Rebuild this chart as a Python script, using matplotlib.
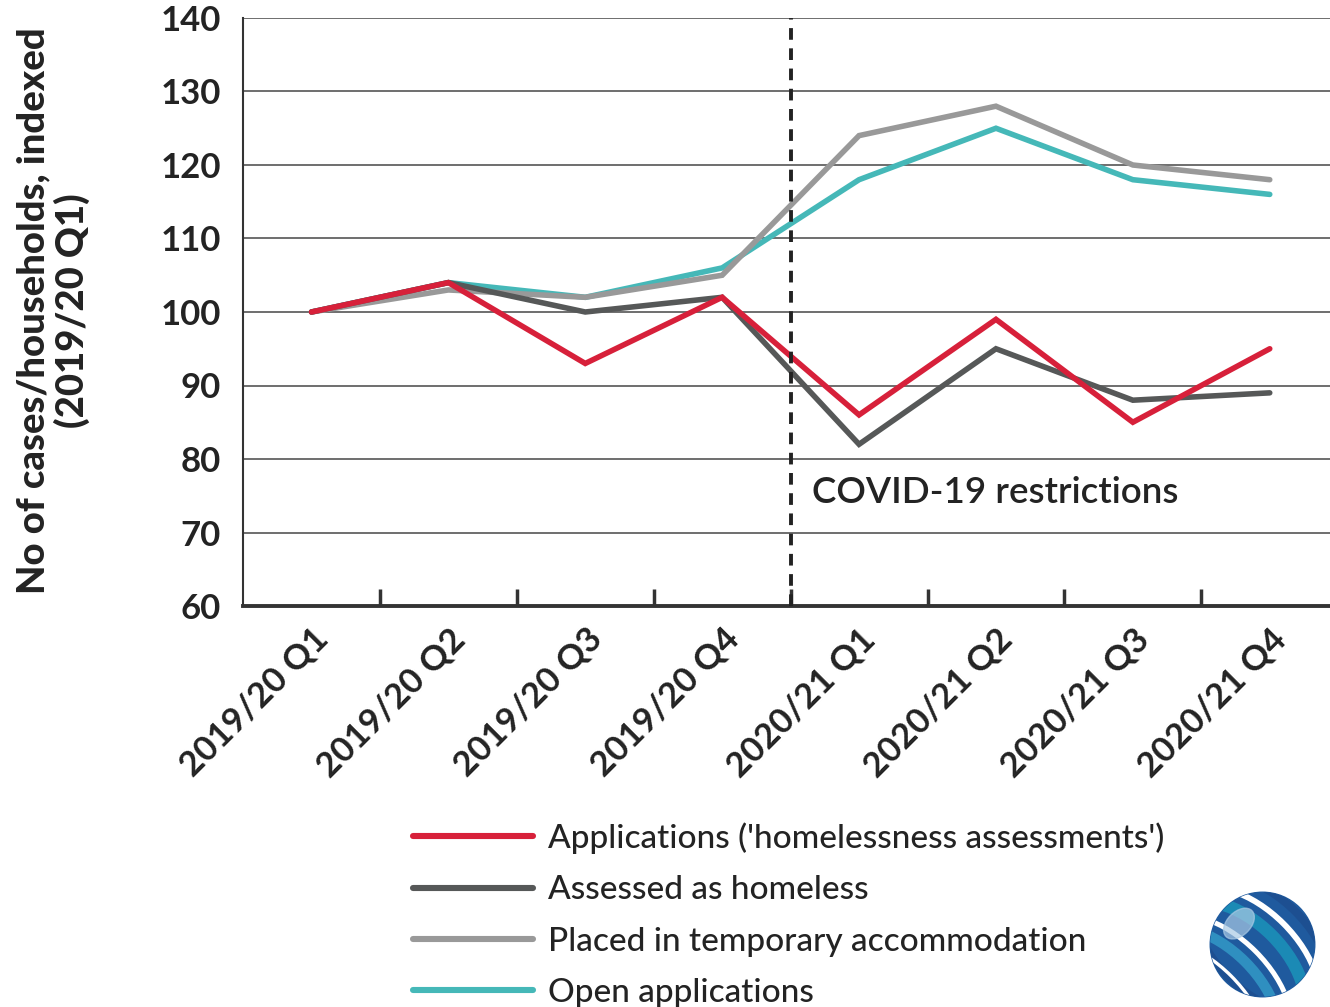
import matplotlib
matplotlib.use("Agg")
import matplotlib.pyplot as plt
import numpy as np
from matplotlib.patches import Circle, Ellipse
from matplotlib.lines import Line2D

categories = ["2019/20 Q1", "2019/20 Q2", "2019/20 Q3", "2019/20 Q4",
              "2020/21 Q1", "2020/21 Q2", "2020/21 Q3", "2020/21 Q4"]
applications = [100, 104, 93, 102, 86, 99, 85, 95]
assessed = [100, 104, 100, 102, 82, 95, 88, 89]
placed = [100, 103, 102, 105, 124, 128, 120, 118]
open_apps = [100, 104, 102, 106, 118, 125, 118, 116]

series_labels = ["Applications ('homelessness assessments')", "Assessed as homeless",
                 "Placed in temporary accommodation", "Open applications"]
colors = ["#d7203a", "#565858", "#999999", "#45b8b8"]

plt.rcParams['font.family'] = ['Lato', 'DejaVu Sans']
TXT = "#232323"

fig = plt.figure(figsize=(13.3, 10.07), dpi=100)
ax = fig.add_axes([243/1330, 1-606/1007, 1-243/1330, (606-18)/1007])

x = np.arange(len(categories))
lw = 4.0
ax.plot(x, open_apps, color=colors[3], lw=lw, solid_capstyle='round', solid_joinstyle='miter', zorder=3)
ax.plot(x, placed, color=colors[2], lw=lw, solid_capstyle='round', solid_joinstyle='miter', zorder=4)
ax.plot(x, assessed, color=colors[1], lw=lw, solid_capstyle='round', solid_joinstyle='miter', zorder=5)
ax.plot(x, applications, color=colors[0], lw=lw, solid_capstyle='round', solid_joinstyle='miter', zorder=6)

ax.set_xlim(-0.5, 7.44)
ax.set_ylim(60, 140)
ax.set_yticks(np.arange(60, 141, 10))
ax.yaxis.grid(True, color="#555555", lw=1.2)
ax.set_axisbelow(True)
for s in ["top", "right"]:
    ax.spines[s].set_visible(False)
ax.spines["left"].set_color("#333333")
ax.spines["left"].set_linewidth(1.5)
ax.spines["bottom"].set_color("#333333")
ax.spines["bottom"].set_linewidth(2.8)

ax.set_xticks(x)
ax.set_xticklabels(categories, rotation=45, ha="right", va="top", rotation_mode="anchor",
                   fontsize=25, fontweight="bold", color=TXT)
ax.tick_params(axis="x", length=0, pad=12)
ax.set_xticks(np.arange(0.5, 7, 1), minor=True)
ax.tick_params(axis="x", which="minor", direction="in", length=12, width=2.5, color="#333333")
ax.tick_params(axis="y", length=0, pad=16, labelsize=25, labelcolor=TXT)
for t in ax.get_yticklabels():
    t.set_fontweight("bold")

ax.axvline(3.5, color="#222222", lw=2.8, ls=(0, (3, 2.2)), zorder=7)
ax.text(3.655, 75.4, "COVID-19 restrictions", fontsize=26.5, fontweight="semibold",
        color=TXT, va="center", ha="left")

fig.text(53/1330, 1-311/1007, "No of cases/households, indexed\n(2019/20 Q1)", rotation=90,
         ha="center", va="center", fontsize=27.5, fontweight="black", color=TXT,
         linespacing=1.1)

handles = [Line2D([], [], color=c, lw=4.4, solid_capstyle='round') for c in colors]
leg = fig.legend(handles, series_labels, loc="upper left", bbox_to_anchor=(400/1330, 1-809/1007),
                 frameon=False, handlelength=3.6, handletextpad=0.45,
                 labelspacing=0.64, borderaxespad=0,
                 prop={'size': 24, 'weight': 'medium'})
for t in leg.get_texts():
    t.set_color(TXT)

# logo globe
lax = fig.add_axes([1205/1330, 1-1002/1007, 115/1330, 115/1007])
lax.set_xlim(-1.1, 1.1)
lax.set_ylim(-1.1, 1.1)
lax.set_aspect("equal")
lax.axis("off")
base = Circle((0, 0), 1, color="#1f5a9e")
lax.add_patch(base)
band_specs = [(-0.55, 0.25, "#2f8fc0"), (-0.2, 0.12, "white"), (0.15, 0.3, "#1b8ab5"),
              (0.55, 0.14, "white"), (0.85, 0.2, "#1d4f91"), (-0.85, 0.08, "white")]
for off, w, c in band_specs:
    e = Ellipse((off * 0.7 - 0.6, off * 0.7 - 0.6), 3.2, w + 1.6, angle=-45,
                facecolor="none", edgecolor=c, lw=w * 30)
    e.set_clip_path(base)
    lax.add_patch(e)
hl = Ellipse((-0.45, 0.4), 0.7, 0.45, angle=45, color="#a9c9e4", alpha=0.7)
hl.set_clip_path(base)
lax.add_patch(hl)

fig.savefig("out.png", dpi=100)
